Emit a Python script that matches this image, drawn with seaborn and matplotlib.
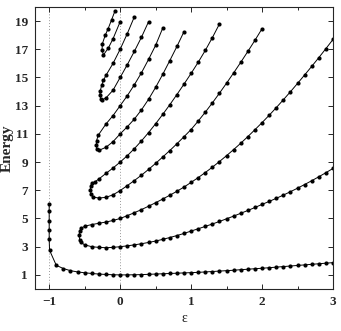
import numpy as np
import pandas as pd
import matplotlib
matplotlib.use('Agg')
import matplotlib.pyplot as plt
import seaborn as sns
from matplotlib.ticker import MultipleLocator

# ground state (vertical run at eps=-1, then flat near 1)
g_eps = [-1.0, -1.0, -1.0, -1.0, -1.0, -0.995, -0.9, -0.8, -0.7, -0.6, -0.5, -0.4, -0.3, -0.2, -0.1,
         0.0, 0.1, 0.2, 0.3, 0.4, 0.5, 0.6, 0.7, 0.8, 0.9, 1.0, 1.1, 1.2, 1.3, 1.4, 1.5, 1.6, 1.7,
         1.8, 1.9, 2.0, 2.1, 2.2, 2.3, 2.4, 2.5, 2.6, 2.7, 2.8, 2.9, 3.0]
g_E = [6.0, 5.5, 4.8, 4.2, 3.55, 2.75, 1.68, 1.45, 1.3, 1.21, 1.15, 1.1, 1.06, 1.03, 1.01,
       1.0, 1.0, 1.01, 1.02, 1.04, 1.06, 1.08, 1.1, 1.12, 1.14, 1.16, 1.18, 1.21, 1.24, 1.27, 1.3, 1.33, 1.37,
       1.4, 1.44, 1.47, 1.51, 1.55, 1.59, 1.63, 1.67, 1.71, 1.75, 1.79, 1.83, 1.87]

# pair 1: E1 (lower) and E2 (upper), merging near eps=-0.578
e1_eps = [-0.578, -0.57, -0.55, -0.5, -0.4, -0.3, -0.2, -0.1, 0.0, 0.1, 0.2, 0.3, 0.4, 0.5, 0.6, 0.7, 0.8, 0.9,
          1.0, 1.1, 1.2, 1.3, 1.4, 1.5, 1.6, 1.7, 1.8, 1.9, 2.0, 2.1, 2.2, 2.3, 2.4, 2.5, 2.6, 2.7, 2.8, 2.9, 3.0]
e1_E = [3.8, 3.5, 3.3, 3.13, 3.0, 2.95, 2.93, 2.95, 3.0, 3.06, 3.13, 3.21, 3.30, 3.40, 3.52, 3.65, 3.79, 3.94,
        4.11, 4.27, 4.44, 4.61, 4.79, 4.98, 5.17, 5.37, 5.57, 5.78, 6.0, 6.21, 6.43, 6.66, 6.90, 7.15, 7.41,
        7.68, 7.96, 8.25, 8.55]
e2_eps = [-0.578, -0.57, -0.55, -0.5, -0.4, -0.3, -0.2, -0.1, 0.0, 0.1, 0.2, 0.3, 0.4, 0.5, 0.6, 0.7, 0.8, 0.9,
          1.0, 1.1, 1.2, 1.3, 1.4, 1.5, 1.6, 1.7, 1.8, 1.9, 2.0, 2.1, 2.2, 2.3, 2.4, 2.5, 2.6, 2.7, 2.8, 2.9, 3.0]
e2_E = [3.8, 4.1, 4.3, 4.45, 4.57, 4.66, 4.75, 4.86, 5.0, 5.2, 5.41, 5.63, 5.87, 6.12, 6.38, 6.65, 6.93, 7.23,
        7.56, 7.90, 8.26, 8.64, 9.04, 9.46, 9.89, 10.34, 10.81, 11.30, 11.80, 12.32, 12.86, 13.42, 13.99,
        14.58, 15.18, 15.79, 16.41, 17.05, 17.70]

# pair 2: E3 / E4
e3_eps = [-0.42, -0.41, -0.38, -0.3, -0.2, -0.1, 0.0, 0.1, 0.2, 0.3, 0.4, 0.5, 0.6, 0.7, 0.8, 0.9,
          1.0, 1.1, 1.2, 1.3, 1.4, 1.5, 1.6, 1.7, 1.8, 1.9, 2.0]
e3_E = [7.05, 6.72, 6.52, 6.45, 6.5, 6.68, 6.98, 7.33, 7.69, 8.07, 8.48, 8.91, 9.36, 9.82, 10.30, 10.80,
        11.31, 11.91, 12.54, 13.20, 13.89, 14.60, 15.33, 16.08, 16.85, 17.64, 18.46]
e4_eps = [-0.42, -0.415, -0.4, -0.35, -0.3, -0.2, -0.1, 0.0, 0.1, 0.2, 0.3, 0.4, 0.5, 0.6, 0.7, 0.8, 0.9,
          1.0, 1.1, 1.2, 1.3, 1.4]
e4_E = [7.05, 7.3, 7.5, 7.62, 7.8, 8.2, 8.58, 9.0, 9.45, 9.95, 10.5, 11.09, 11.72, 12.38, 13.07, 13.79, 14.53,
        15.29, 16.08, 16.92, 17.83, 18.8]

# pair 3: E5 / E6
e5_eps = [-0.335, -0.33, -0.3, -0.2, -0.1, 0.0, 0.1, 0.2, 0.3, 0.4, 0.5, 0.6, 0.7, 0.8, 0.9]
e5_E = [10.2, 9.95, 9.83, 10.05, 10.45, 11.0, 11.5, 12.05, 12.7, 13.45, 14.3, 15.22, 16.2, 17.2, 18.25]
e6_eps = [-0.335, -0.333, -0.31, -0.2, -0.1, 0.0, 0.1, 0.2, 0.3, 0.4, 0.5, 0.6]
e6_E = [10.2, 10.5, 10.9, 11.7, 12.3, 13.0, 13.7, 14.48, 15.33, 16.28, 17.28, 18.5]

# pair 4: E7 / E8
e7_eps = [-0.285, -0.275, -0.26, -0.2, -0.1, 0.0, 0.1, 0.2, 0.3, 0.4]
e7_E = [13.75, 13.5, 13.4, 13.55, 14.1, 15.0, 15.9, 16.85, 17.85, 18.95]
e8_eps = [-0.285, -0.28, -0.26, -0.235, -0.2, -0.1, 0.0, 0.1, 0.2]
e8_E = [13.75, 14.05, 14.45, 14.8, 15.15, 16.0, 17.0, 18.1, 19.3]

# pair 5: E9 / E10
e9_eps = [-0.255, -0.235, -0.165, -0.1, 0.0]
e9_E = [16.95, 16.6, 17.1, 17.75, 18.95]
e10_eps = [-0.255, -0.25, -0.21, -0.17, -0.12, -0.07]
e10_E = [16.95, 17.4, 18.0, 18.45, 19.1, 19.75]

pairs = [(e2_eps, e2_E, e1_eps, e1_E), (e4_eps, e4_E, e3_eps, e3_E), (e6_eps, e6_E, e5_eps, e5_E),
         (e8_eps, e8_E, e7_eps, e7_E), (e10_eps, e10_E, e9_eps, e9_E)]

rows = [pd.DataFrame({'eps': g_eps, 'E': g_E, 'curve': 0})]
for i, (ue, uE, le, lE) in enumerate(pairs, start=1):
    # upper branch walked back to the tip, then out along the lower branch
    rows.append(pd.DataFrame({'eps': ue[::-1] + le[1:], 'E': uE[::-1] + lE[1:], 'curve': i}))
df = pd.concat(rows, ignore_index=True)

sns.set_style('ticks')
plt.rcParams['font.family'] = ['Liberation Serif', 'DejaVu Serif']

fig = plt.figure(figsize=(3.41, 3.31), dpi=100)
ax = fig.add_axes([0.1026, 0.1269, 0.874, 0.852])

ax.axvline(-1, ls=(0, (1, 2)), color='0.6', lw=0.7, zorder=0)
ax.axvline(0, ls=(0, (1, 2)), color='0.6', lw=0.7, zorder=0)

sns.lineplot(data=df, x='eps', y='E', units='curve', estimator=None, sort=False,
             color='black', lw=0.7, marker='o', markersize=3.0, markeredgewidth=0, ax=ax)

ax.set_xlim(-1.2, 3.0)
ax.set_ylim(0, 20)
ax.set_xticks([-1, 0, 1, 2, 3])
ax.xaxis.set_minor_locator(MultipleLocator(0.5))
ax.set_yticks(list(range(1, 20, 2)))
ax.tick_params(which='both', direction='in', top=True, right=True, width=0.7)
ax.tick_params(which='major', length=3.5, labelsize=9.5, pad=5)
ax.tick_params(which='minor', length=2)
for lab in ax.get_xticklabels() + ax.get_yticklabels():
    lab.set_fontweight('bold')
for sp in ax.spines.values():
    sp.set_linewidth(0.8)

ax.set_xlabel('ε', fontsize=10, labelpad=3)
ax.set_ylabel('Energy', fontsize=11, fontweight='bold', labelpad=1)

fig.savefig('out.png', dpi=100)
